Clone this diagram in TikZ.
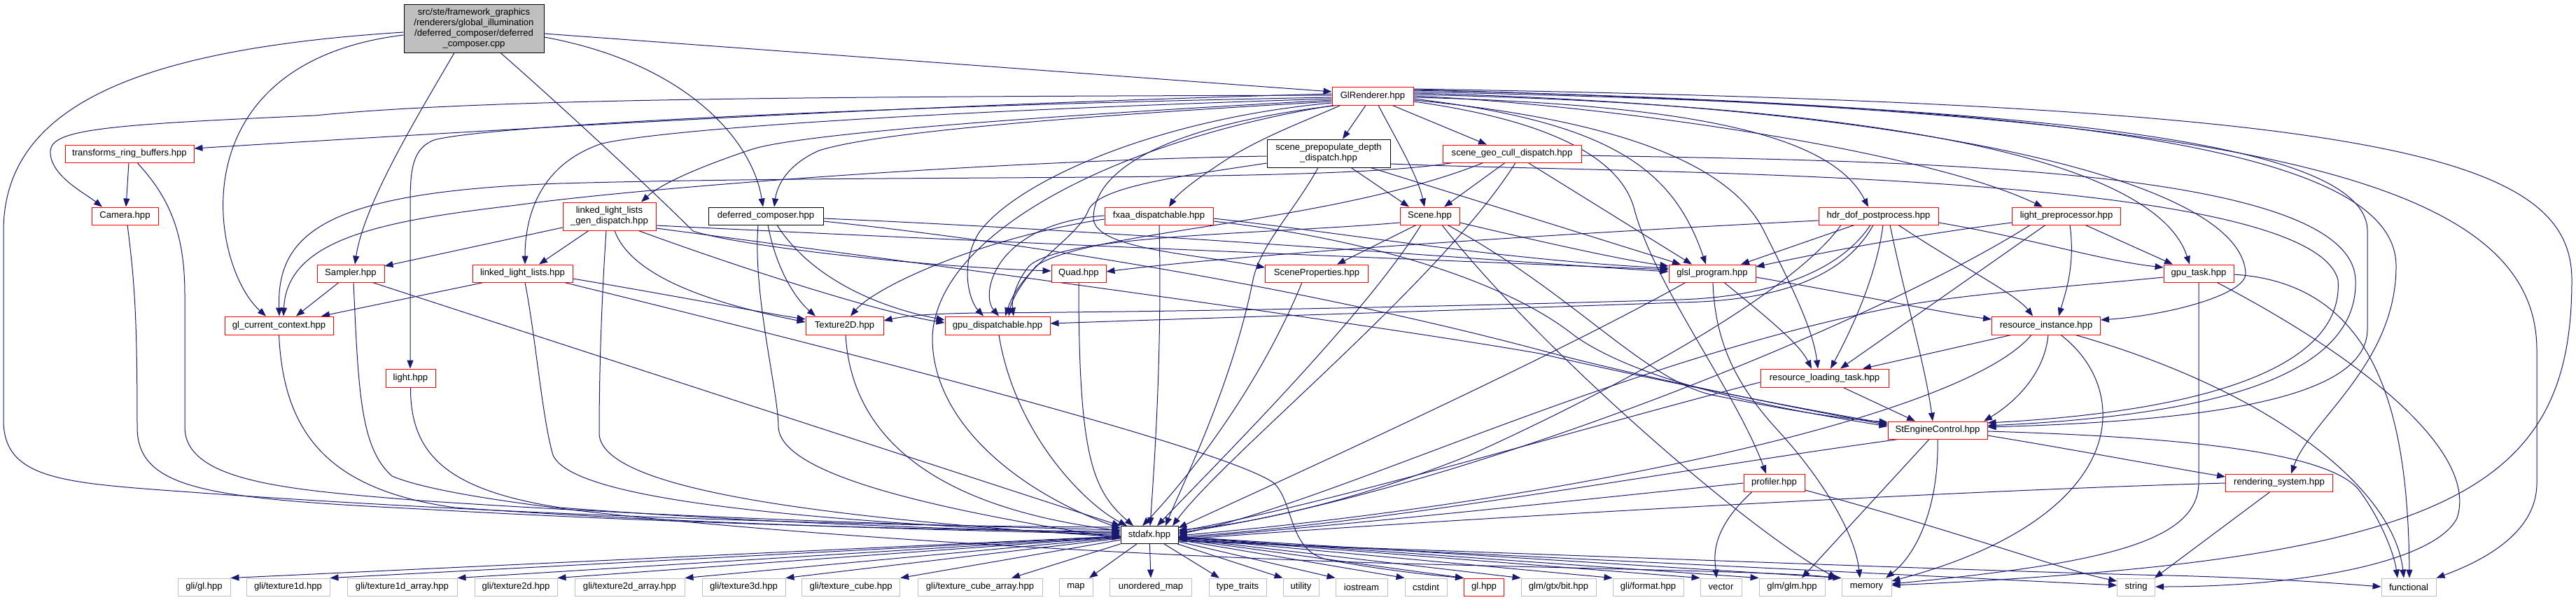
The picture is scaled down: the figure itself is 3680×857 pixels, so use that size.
\documentclass[tikz,border=0pt]{standalone}
\usepackage{fontspec}
\setmainfont{Liberation Sans}
\usetikzlibrary{arrows.meta}
\definecolor{edgec}{HTML}{191970}
\definecolor{greyl}{HTML}{BFBFBF}
\pgfdeclarelayer{bg}
\pgfsetlayers{bg,main}
\newcommand{\mynode}[7]{\node[#1,minimum width=#5bp,minimum height=#6bp] (#2) at (#3,#4) {#7};}
\tikzset{
  nd/.style={draw, line width=0.9bp, fill=white, inner sep=0pt, font=\fontsize{13.1bp}{14.8bp}\selectfont, align=center},
  rn/.style={nd, draw=red},
  bn/.style={nd, draw=black},
  gn/.style={nd, draw=greyl},
  rootn/.style={nd, draw=black, fill=greyl},
  edg/.style={draw=edgec, line width=1bp, -{Triangle[length=12bp,width=9bp]}},
}
\begin{document}
\begin{tikzpicture}[x=1bp,y=-1bp]
\useasboundingbox (0,0) rectangle (3680,857);
\begin{pgfonlayer}{bg}
\fill[white] (0,0) rectangle (3680,857);
\end{pgfonlayer}
% nodes
\mynode{rootn}{root}{677}{40.5}{200}{69}{src/ste/framework\_graphics\\/renderers/global\_illumination\\/deferred\_composer/deferred\\\_composer.cpp}
\mynode{rn}{GlR}{1961}{137}{116}{26}{GlRenderer.hpp}
\mynode{rn}{trb}{185}{219.5}{184}{25}{transforms\_ring\_buffers.hpp}
\mynode{rn}{Camera}{178.5}{308.5}{95}{25}{Camera.hpp}
\mynode{rn}{Sampler}{501}{390.5}{96}{25}{Sampler.hpp}
\mynode{rn}{llgd}{870.5}{309}{133}{40}{linked\_light\_lists\\\_gen\_dispatch.hpp}
\mynode{bn}{dc}{1094}{308.5}{164}{25}{deferred\_composer.hpp}
\mynode{rn}{llh}{746.5}{390.5}{143}{25}{linked\_light\_lists.hpp}
\mynode{rn}{fxaa}{1655.5}{308.5}{155}{25}{fxaa\_dispatchable.hpp}
\mynode{rn}{Quad}{1541}{390.5}{78}{25}{Quad.hpp}
\mynode{bn}{spd}{1898}{219}{176}{40}{scene\_prepopulate\_depth\\\_dispatch.hpp}
\mynode{rn}{sgc}{2160}{219.5}{198}{25}{scene\_geo\_cull\_dispatch.hpp}
\mynode{rn}{Scene}{2042.5}{308.5}{85}{25}{Scene.hpp}
\mynode{rn}{SP}{1881}{390.5}{147}{25}{SceneProperties.hpp}
\mynode{rn}{glsl}{2446}{390.5}{124}{25}{glsl\_program.hpp}
\mynode{rn}{hdr}{2683.5}{308.5}{171}{25}{hdr\_dof\_postprocess.hpp}
\mynode{rn}{lpp}{2952}{308.5}{155}{25}{light\_preprocessor.hpp}
\mynode{rn}{gput}{3141}{390.5}{100}{25}{gpu\_task.hpp}
\mynode{rn}{glcc}{398.5}{465}{155}{26}{gl\_current\_context.hpp}
\mynode{rn}{light}{586.5}{540}{71}{26}{light.hpp}
\mynode{rn}{T2D}{1206.5}{465}{111}{26}{Texture2D.hpp}
\mynode{rn}{gpud}{1425}{465}{150}{26}{gpu\_dispatchable.hpp}
\mynode{rn}{ri}{2923}{465}{155}{26}{resource\_instance.hpp}
\mynode{rn}{rlt}{2606.5}{540}{183}{26}{resource\_loading\_task.hpp}
\mynode{rn}{SEC}{2768}{614.5}{142}{25}{StEngineControl.hpp}
\mynode{rn}{prof}{2534.5}{689.5}{87}{25}{profiler.hpp}
\mynode{rn}{rs}{3256}{689.5}{153}{25}{rendering\_system.hpp}
\mynode{bn}{stdafx}{1642}{764}{82}{25}{stdafx.hpp}
\mynode{gn}{gligl}{291.5}{838.5}{75}{25}{gli/gl.hpp}
\mynode{gn}{texa}{411.5}{838.5}{119}{25}{gli/texture1d.hpp}
\mynode{gn}{texb}{574.5}{838.5}{157}{25}{gli/texture1d\_array.hpp}
\mynode{gn}{texc}{737}{838.5}{118}{25}{gli/texture2d.hpp}
\mynode{gn}{texd}{899.5}{838.5}{157}{25}{gli/texture2d\_array.hpp}
\mynode{gn}{texe}{1062.5}{838.5}{119}{25}{gli/texture3d.hpp}
\mynode{gn}{texf}{1215.7}{838.5}{140}{25}{gli/texture\_cube.hpp}
\mynode{gn}{texg}{1400}{838.5}{178}{25}{gli/texture\_cube\_array.hpp}
\mynode{gn}{mapn}{1537}{838.5}{48}{25}{map}
\mynode{gn}{umap}{1644}{838.5}{117}{25}{unordered\_map}
\mynode{gn}{tt}{1768}{838.5}{82}{25}{type\_traits}
\mynode{gn}{util}{1858.5}{838.5}{51}{25}{utility}
\mynode{gn}{ios}{1945}{838.5}{74}{25}{iostream}
\mynode{gn}{cstd}{2037}{838.5}{60}{25}{cstdint}
\mynode{rn}{glhpp}{2120}{838.5}{57}{25}{gl.hpp}
\mynode{gn}{gtxbit}{2226.5}{838.5}{107}{25}{glm/gtx/bit.hpp}
\mynode{gn}{gliformat}{2354.5}{838.5}{101}{25}{gli/format.hpp}
\mynode{gn}{vectorn}{2458.5}{838.5}{59}{25}{vector}
\mynode{gn}{glm}{2560}{838.5}{94}{25}{glm/glm.hpp}
\mynode{gn}{memoryn}{2666.5}{838.5}{71}{25}{memory}
\mynode{gn}{stringn}{3051.6}{838.5}{54}{25}{string}
\mynode{gn}{functionaln}{3441}{838.5}{78}{25}{functional}

\begin{pgfonlayer}{bg}
% root
\draw[edg] (root.east |- 0,48) -- (GlR.west |- 0,131);
\draw[edg] (root.east |- 0,53) .. controls (980,90) and (1075,200) .. (1090,0 |- dc.north);
\draw[edg] (649,0 |- root.south) .. controls (600,160) and (520,290) .. (507,0 |- Sampler.north);
\draw[edg] (715,0 |- root.south) .. controls (800,150) and (930,270) .. (990,330) .. controls (1050,350) and (1300,380) .. (Quad.west |- 0,387);
\draw[edg] (root.west |- 0,50) .. controls (250,90) and (300,380) .. (380,0 |- glcc.north);
\draw[edg] (root.west |- 0,46) .. controls (200,70) and (5,150) .. (5,330) -- (5,600) .. controls (5,690) and (100,690) .. (300,705) .. controls (800,740) and (1300,752) .. (stdafx.west |- 0,753);
% GlRenderer left
\draw[edg] (GlR.west |- 0,134) .. controls (1300,150) and (800,180) .. (trb.east |- 0,212);
\draw[edg] (GlR.west |- 0,136) .. controls (1200,138) and (700,140) .. (450,165) .. controls (150,178) and (75,185) .. (72,215) .. controls (70,250) and (120,275) .. (146,0 |- Camera.north);
\draw[edg] (GlR.west |- 0,139) .. controls (1300,150) and (700,178) .. (620,200) .. controls (590,212) and (586,240) .. (586,290) -- (586,0 |- light.north);
\draw[edg] (GlR.west |- 0,141) .. controls (1300,160) and (950,185) .. (860,205) .. controls (770,235) and (750,310) .. (750,0 |- llh.north);
\draw[edg] (GlR.west |- 0,143) .. controls (1500,165) and (1150,190) .. (1075,213) .. controls (1000,238) and (945,262) .. (916,0 |- llgd.north);
\draw[edg] (GlR.west |- 0,145) .. controls (1500,168) and (1250,190) .. (1170,215) .. controls (1125,235) and (1110,265) .. (1106,0 |- dc.north);
\draw[edg] (GlR.west |- 0,147) .. controls (1650,170) and (1450,260) .. (1398,333) .. controls (1370,380) and (1385,430) .. (1405,0 |- gpud.north);
\draw[edg] (1915,0 |- GlR.south) .. controls (1860,175) and (1790,200) .. (1734,240) .. controls (1700,262) and (1680,280) .. (1670,0 |- fxaa.north);
\draw[edg] (1910,0 |- GlR.south) .. controls (1700,175) and (1565,230) .. (1562,310) .. controls (1560,355) and (1700,362) .. (SP.west |- 0,382);
\draw[edg] (1951,0 |- GlR.south) -- (1918,0 |- spd.north);
\draw[edg] (1969,0 |- GlR.south) .. controls (1995,200) and (2025,250) .. (2035,0 |- Scene.north);
\draw[edg] (1989,0 |- GlR.south) -- (2124,0 |- sgc.north);
\draw[edg] (1905,0 |- GlR.south) .. controls (1600,200) and (1340,330) .. (1332,480) .. controls (1330,600) and (1450,700) .. (stdafx.west |- 0,755);
% GlRenderer right
\draw[edg] (GlR.east |- 0,141) .. controls (2300,175) and (2390,240) .. (2437,0 |- glsl.north);
\draw[edg] (GlR.east |- 0,139) .. controls (2450,150) and (2620,200) .. (2669,0 |- hdr.north);
\draw[edg] (GlR.east |- 0,137) .. controls (2300,150) and (2750,215) .. (2918,0 |- lpp.north);
\draw[edg] (GlR.east |- 0,135) .. controls (2700,150) and (3080,230) .. (3128,0 |- gput.north);
\draw[edg] (GlR.east |- 0,133) .. controls (2700,150) and (3200,250) .. (3208,390) .. controls (3210,420) and (3100,450) .. (ri.east |- 0,457);
\draw[edg] (GlR.east |- 0,143) .. controls (2300,170) and (2470,230) .. (2520,330) .. controls (2560,410) and (2590,470) .. (2597,0 |- rlt.north);
\draw[edg] (GlR.east |- 0,145) .. controls (2200,170) and (2315,220) .. (2335,300) .. controls (2365,410) and (2480,560) .. (2523,0 |- prof.north);
\draw[edg] (GlR.east |- 0,131) .. controls (2900,150) and (3382,200) .. (3382,330) -- (3382,470) .. controls (3382,560) and (3200,600) .. (SEC.east |- 0,610);
\draw[edg] (GlR.east |- 0,129) .. controls (3000,150) and (3423,220) .. (3423,380) .. controls (3423,520) and (3300,600) .. (3273,0 |- rs.north);
\draw[edg] (GlR.east |- 0,127) .. controls (3400,150) and (3674,220) .. (3674,400) .. controls (3674,700) and (3500,800) .. (memoryn.east |- 0,836);
\draw[edg] (GlR.east |- 0,128) .. controls (3200,160) and (3624,250) .. (3624,500) -- (3624,690) .. controls (3624,760) and (3550,800) .. (functionaln.north east);
% trb, Camera, Sampler, light, glcc
\draw[edg] (184,0 |- trb.south) -- (180,0 |- Camera.north);
\draw[edg] (196,0 |- trb.south) .. controls (240,280) and (264,330) .. (264,420) -- (264,610) .. controls (264,690) and (420,700) .. (600,715) .. controls (1000,742) and (1400,752) .. (stdafx.west |- 0,757);
\draw[edg] (182,0 |- Camera.south) .. controls (192,400) and (196,450) .. (196,610) .. controls (196,700) and (300,712) .. (600,727) .. controls (1000,750) and (1400,758) .. (stdafx.west |- 0,759);
\draw[edg] (484,0 |- Sampler.south) -- (423,0 |- glcc.north);
\draw[edg] (532,0 |- Sampler.south) -- (stdafx.west |- 0,751);
\draw[edg] (505,0 |- Sampler.south) .. controls (512,560) and (515,640) .. (560,680) .. controls (700,740) and (1500,790) .. (2000,805) .. controls (2400,815) and (2560,818) .. (2624,0 |- memoryn.north);
\draw[edg] (light.south) .. controls (586,650) and (640,700) .. (800,725) .. controls (1100,748) and (1400,757) .. (stdafx.west |- 0,761);
\draw[edg] (glcc.south) .. controls (405,620) and (470,700) .. (650,725) .. controls (1000,750) and (1400,758) .. (stdafx.west |- 0,763);
% llh
\draw[edg] (691,0 |- llh.south) -- (459,0 |- glcc.north);
\draw[edg] (750,0 |- llh.south) .. controls (765,480) and (775,600) .. (790,650) .. controls (820,720) and (1200,745) .. (stdafx.west |- 0,765);
\draw[edg] (llh.east |- 0,398) .. controls (950,420) and (1080,445) .. (T2D.west |- 0,456);
\draw[edg] (806,0 |- llh.south) .. controls (1200,500) and (1750,640) .. (1820,690) .. controls (1850,720) and (1840,790) .. (1900,800) .. controls (1980,815) and (2050,822) .. (glhpp.north west);
% llgd
\draw[edg] (llgd.west |- 0,325) -- (Sampler.east |- 0,380);
\draw[edg] (841,0 |- llgd.south) -- (770,0 |- llh.north);
\draw[edg] (866,0 |- llgd.south) .. controls (858,450) and (856,550) .. (856,620) .. controls (860,690) and (1100,735) .. (stdafx.west |- 0,767);
\draw[edg] (878,0 |- llgd.south) .. controls (900,390) and (1000,430) .. (T2D.west |- 0,460);
\draw[edg] (912,0 |- llgd.south) .. controls (1050,380) and (1250,445) .. (gpud.west |- 0,461);
\draw[edg] (llgd.east |- 0,322) .. controls (1400,345) and (2000,370) .. (glsl.west |- 0,385);
\draw[edg] (llgd.east |- 0,326) .. controls (1500,400) and (2000,470) .. (2200,505) .. controls (2350,540) and (2550,580) .. (SEC.west |- 0,605);
% deferred_composer
\draw[edg] (1083,0 |- dc.south) .. controls (1075,420) and (1112,560) .. (1112,610) .. controls (1115,680) and (1350,730) .. (stdafx.west |- 0,769);
\draw[edg] (1097,0 |- dc.south) .. controls (1110,390) and (1140,430) .. (1165,0 |- T2D.north);
\draw[edg] (1110,0 |- dc.south) .. controls (1160,400) and (1260,440) .. (gpud.west |- 0,457);
\draw[edg] (dc.east |- 0,312) .. controls (1600,330) and (2100,370) .. (glsl.west |- 0,388);
\draw[edg] (dc.east |- 0,316) .. controls (1500,350) and (1900,420) .. (2200,500) .. controls (2350,540) and (2550,580) .. (SEC.west |- 0,607);
% fxaa
\draw[edg] (fxaa.west |- 0,308) .. controls (1420,320) and (1400,420) .. (1427,0 |- gpud.north);
\draw[edg] (fxaa.west |- 0,313) .. controls (1400,340) and (1250,410) .. (1215,0 |- T2D.north);
\draw[edg] (1656,0 |- fxaa.south) .. controls (1660,500) and (1650,650) .. (1643,0 |- stdafx.north);
\draw[edg] (fxaa.east |- 0,312) .. controls (1900,330) and (2150,372) .. (glsl.west |- 0,383);
\draw[edg] (fxaa.east |- 0,316) .. controls (1950,340) and (2150,400) .. (2250,480) .. controls (2350,550) and (2550,585) .. (SEC.west |- 0,609);
% Quad, Texture2D, gpu_dispatchable
\draw[edg] (Quad.south) .. controls (1541,650) and (1560,700) .. (1619,0 |- stdafx.north);
\draw[edg] (1208,0 |- T2D.south) .. controls (1215,600) and (1300,720) .. (stdafx.west |- 0,758);
\draw[edg] (1427,0 |- gpud.south) .. controls (1450,620) and (1550,720) .. (1610,0 |- stdafx.north);
% scene_prepopulate_depth_dispatch
\draw[edg] (1930,0 |- spd.south) -- (2013,0 |- Scene.north);
\draw[edg] (1958,0 |- spd.south) -- (2401,0 |- glsl.north);
\draw[edg] (spd.west |- 0,223) .. controls (1400,230) and (900,270) .. (738,293) .. controls (550,315) and (410,340) .. (405,0 |- glcc.north);
\draw[edg] (spd.west |- 0,233) .. controls (1700,250) and (1570,265) .. (1555,300) .. controls (1540,340) and (1460,380) .. (1436,0 |- gpud.north);
\draw[edg] (1883,0 |- spd.south) .. controls (1850,300) and (1800,350) .. (1790,400) .. controls (1760,550) and (1690,690) .. (1665,0 |- stdafx.north);
\draw[edg] (spd.east |- 0,234) .. controls (2300,248) and (3300,240) .. (3340,400) .. controls (3350,540) and (3100,590) .. (SEC.east |- 0,604);
% scene_geo_cull_dispatch
\draw[edg] (2150,0 |- sgc.south) -- (2063,0 |- Scene.north);
\draw[edg] (2183,0 |- sgc.south) -- (2417,0 |- glsl.north);
\draw[edg] (2075,0 |- sgc.south) .. controls (1900,262) and (1300,248) .. (800,262) .. controls (470,274) and (395,330) .. (399,0 |- glcc.north);
\draw[edg] (2119,0 |- sgc.south) .. controls (1900,320) and (1550,330) .. (1480,380) .. controls (1455,410) and (1445,430) .. (1441,0 |- gpud.north);
\draw[edg] (2165,0 |- sgc.south) .. controls (2060,400) and (1750,650) .. (1675,0 |- stdafx.north);
\draw[edg] (sgc.east |- 0,222) .. controls (2700,230) and (3360,235) .. (3365,400) .. controls (3370,550) and (3120,595) .. (SEC.east |- 0,608);
% Scene
\draw[edg] (2023,0 |- Scene.south) -- (1910,0 |- SP.north);
\draw[edg] (Scene.west |- 0,318) .. controls (1800,335) and (1520,335) .. (1470,380) .. controls (1450,405) and (1445,430) .. (1448,0 |- gpud.north);
\draw[edg] (2030,0 |- Scene.south) .. controls (1950,450) and (1750,650) .. (1653,0 |- stdafx.north);
\draw[edg] (Scene.east |- 0,318) .. controls (2200,345) and (2320,372) .. (glsl.west |- 0,380);
\draw[edg] (2068,0 |- Scene.south) .. controls (2250,420) and (2350,545) .. (2450,565) .. controls (2550,585) and (2620,597) .. (SEC.west |- 0,603);
\draw[edg] (2060,0 |- Scene.south) .. controls (2200,500) and (2500,760) .. (2624,0 |- memoryn.north);
% SceneProperties
\draw[edg] (1860,0 |- SP.south) .. controls (1800,550) and (1700,680) .. (1632,0 |- stdafx.north);
% glsl_program
\draw[edg] (2408,0 |- glsl.south) .. controls (2200,520) and (1800,700) .. (stdafx.east |- 0,754);
\draw[edg] (2463,0 |- glsl.south) .. controls (2520,450) and (2570,490) .. (2588,0 |- rlt.north);
\draw[edg] (2447,0 |- glsl.south) .. controls (2450,500) and (2490,560) .. (2540,615) .. controls (2600,680) and (2650,760) .. (2657,0 |- memoryn.north);
\draw[edg] (glsl.east |- 0,396) .. controls (2650,420) and (2780,448) .. (ri.west |- 0,456);
% hdr_dof_postprocess
\draw[edg] (hdr.west |- 0,315) .. controls (2300,330) and (1800,360) .. (Quad.east |- 0,388);
\draw[edg] (2649,0 |- hdr.south) -- (2487,0 |- glsl.north);
\draw[edg] (2672,0 |- hdr.south) .. controls (2620,400) and (2500,425) .. (2400,428) .. controls (2000,440) and (1600,446) .. (1400,447) .. controls (1320,448) and (1290,452) .. (T2D.east |- 0,458);
\draw[edg] (2676,0 |- hdr.south) .. controls (2630,405) and (2520,430) .. (2400,432) .. controls (2000,446) and (1700,455) .. (gpud.east |- 0,462);
\draw[edg] (hdr.east |- 0,318) .. controls (2900,340) and (3000,372) .. (gput.west |- 0,382);
\draw[edg] (2690,0 |- hdr.south) .. controls (2680,400) and (2640,480) .. (2615,0 |- rlt.north);
\draw[edg] (2700,0 |- hdr.south) .. controls (2720,420) and (2750,520) .. (2761,0 |- SEC.north);
\draw[edg] (2712,0 |- hdr.south) .. controls (2800,380) and (2880,420) .. (2904,0 |- ri.north);
\draw[edg] (2630,0 |- hdr.south) .. controls (2560,420) and (2300,560) .. (2100,650) .. controls (1900,730) and (1750,752) .. (stdafx.east |- 0,757);
% light_preprocessor
\draw[edg] (lpp.west |- 0,318) .. controls (2700,340) and (2560,370) .. (glsl.east |- 0,381);
\draw[edg] (2979,0 |- lpp.south) -- (3104,0 |- gput.north);
\draw[edg] (2957,0 |- lpp.south) .. controls (2965,380) and (2950,420) .. (2941,0 |- ri.north);
\draw[edg] (2922,0 |- lpp.south) -- (2629,0 |- rlt.north);
\draw[edg] (2900,0 |- lpp.south) .. controls (2700,450) and (2100,700) .. (stdafx.east |- 0,761);
% gpu_task
\draw[edg] (gput.west |- 0,396) .. controls (2950,410) and (2800,420) .. (2700,440) .. controls (2300,520) and (1900,720) .. (stdafx.east |- 0,763);
\draw[edg] (3141,0 |- gput.south) -- (3141,690) .. controls (3140,775) and (3000,805) .. (memoryn.east |- 0,834);
\draw[edg] (3167,0 |- gput.south) .. controls (3390,520) and (3540,650) .. (3510,740) .. controls (3480,800) and (3300,838) .. (stringn.east |- 0,838);
\draw[edg] (gput.east |- 0,392) .. controls (3400,405) and (3440,600) .. (3442,0 |- functionaln.north);
% resource_instance
\draw[edg] (2873,0 |- ri.south) -- (2661,0 |- rlt.north);
\draw[edg] (2926,0 |- ri.south) .. controls (2920,540) and (2870,580) .. (2834,0 |- SEC.north);
\draw[edg] (2902,0 |- ri.south) .. controls (2800,600) and (2200,720) .. (stdafx.east |- 0,765);
\draw[edg] (2944,0 |- ri.south) .. controls (3050,560) and (3040,740) .. (memoryn.east |- 0,830);
\draw[edg] (2965,0 |- ri.south) .. controls (3250,560) and (3420,700) .. (3434,0 |- functionaln.north);
% resource_loading_task
\draw[edg] (2633,0 |- rlt.south) -- (2736,0 |- SEC.north);
\draw[edg] (rlt.west |- 0,546) .. controls (2300,600) and (1900,720) .. (stdafx.east |- 0,759);
% StEngineControl
\draw[edg] (2712,0 |- SEC.south) .. controls (2400,670) and (2000,745) .. (stdafx.east |- 0,767);
\draw[edg] (2756,0 |- SEC.south) -- (2574,0 |- glm.north);
\draw[edg] (2768,0 |- SEC.south) .. controls (2770,720) and (2740,790) .. (2694,0 |- memoryn.north);
\draw[edg] (SEC.east |- 0,622) .. controls (2950,640) and (3100,668) .. (rs.west |- 0,681);
\draw[edg] (SEC.east |- 0,616) .. controls (3150,625) and (3330,650) .. (3370,700) .. controls (3400,740) and (3420,790) .. (3425,0 |- functionaln.north);
% profiler
\draw[edg] (prof.west |- 0,690) .. controls (2200,720) and (1900,752) .. (stdafx.east |- 0,769);
\draw[edg] (2503,0 |- prof.south) .. controls (2440,760) and (2450,800) .. (2452,0 |- vectorn.north);
\draw[edg] (prof.east |- 0,700) .. controls (2800,760) and (2950,815) .. (stringn.west |- 0,830);
% rendering_system
\draw[edg] (rs.west |- 0,690) .. controls (2800,700) and (2000,745) .. (stdafx.east |- 0,771);
\draw[edg] (3243,0 |- rs.south) -- (3078,0 |- stringn.north);
% stdafx to leaves
\foreach \t in {gligl,texa,texb,texc,texd,texe,texf} \draw[edg] (stdafx) -- (\t.north east);
\draw[edg] (stdafx) -- (1445,0 |- texg.north);
\draw[edg] (stdafx) -- (1556,0 |- mapn.north);
\draw[edg] (stdafx) -- (umap.north);
\draw[edg] (stdafx) -- (1742,0 |- tt.north);
\foreach \t in {util,ios,cstd,glhpp,gtxbit,gliformat,vectorn,glm,memoryn} \draw[edg] (stdafx) -- (\t.north west);
\draw[edg] (stdafx.east |- 0,771) .. controls (2300,800) and (2800,825) .. (stringn.west |- 0,836);
\draw[edg] (stdafx.east |- 0,773) .. controls (2300,795) and (2900,818) .. (3100,822) .. controls (3250,826) and (3350,834) .. (functionaln.west |- 0,838);
\end{pgfonlayer}
\end{tikzpicture}
\end{document}
